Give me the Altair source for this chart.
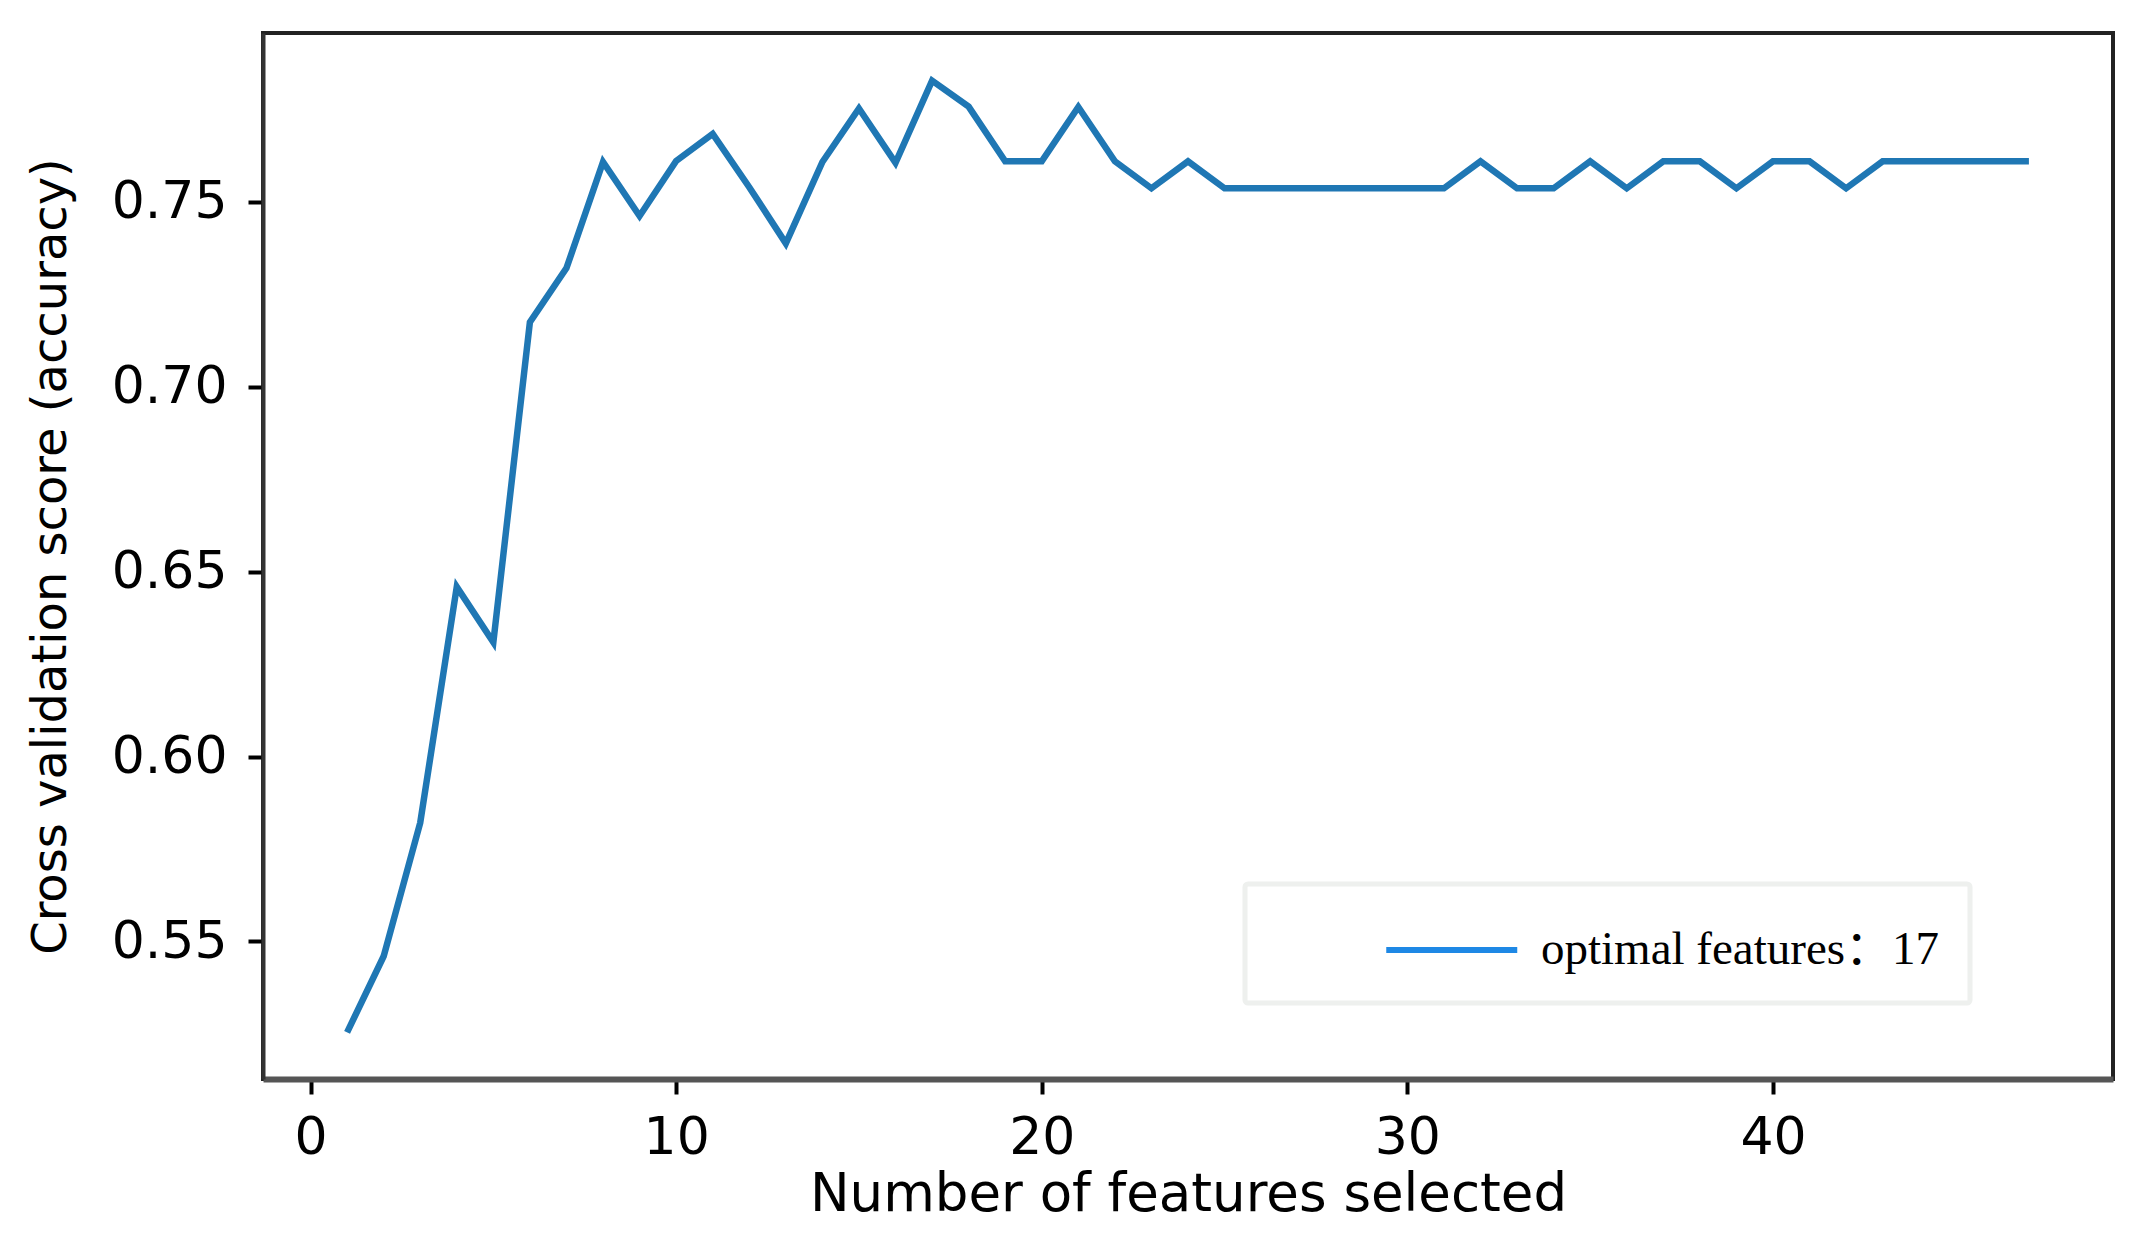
import altair as alt
import pandas as pd

# number of features selected
n_features = list(range(1, 48))
# cross validation score (accuracy)
scores = [
    0.5254, 0.5460, 0.5821, 0.6459, 0.6309, 0.7175, 0.7321, 0.7608, 0.7462, 0.7611,
    0.7684, 0.7540, 0.7388, 0.7608, 0.7753, 0.7606, 0.7828, 0.7758, 0.7610, 0.7610,
    0.7757, 0.7610, 0.7537, 0.7610, 0.7537, 0.7537, 0.7537, 0.7537, 0.7537, 0.7537,
    0.7537, 0.7610, 0.7537, 0.7537, 0.7610, 0.7537, 0.7610, 0.7610, 0.7537, 0.7610,
    0.7610, 0.7537, 0.7610, 0.7610, 0.7610, 0.7610, 0.7610,
]
series_label = "optimal features\uff1a17"
x_ticks = [0, 10, 20, 30, 40]
y_ticks = [0.55, 0.60, 0.65, 0.70, 0.75]

df = pd.DataFrame({"x": n_features, "score": scores, "series": series_label})

x_enc = alt.X(
    "x:Q",
    scale=alt.Scale(domain=[-1.3, 49.3], nice=False, zero=False),
    axis=alt.Axis(
        values=x_ticks, format="d", title="Number of features selected",
        labelPadding=18, titlePadding=5, titleFontSize=53,
        domainColor="#555555", domainWidth=6,
    ),
)
y_enc = alt.Y(
    "score:Q",
    scale=alt.Scale(domain=[0.5128, 0.7957], nice=False, zero=False),
    axis=alt.Axis(
        values=y_ticks, format=".2f", title="Cross validation score (accuracy)",
        labelPadding=21, titlePadding=36, titleFontSize=48,
        domainColor="#333333", domainWidth=4,
    ),
)

line = alt.Chart(df).mark_line(strokeWidth=6.5, color="#1f77b4").encode(
    x=x_enc, y=y_enc
)

legend_layer = alt.Chart(df).mark_line(strokeWidth=6).encode(
    x=x_enc,
    y=y_enc,
    detail="x:Q",
    color=alt.Color(
        "series:N",
        scale=alt.Scale(range=["#1e88e5"]),
        legend=alt.Legend(
            title=None, orient="none", legendX=982, legendY=851,
            symbolType="M-1,0H3", symbolSize=4290, symbolStrokeWidth=6,
            symbolOffset=108, labelOffset=86, labelLimit=900,
            labelFont="Liberation Serif, Noto Sans CJK SC", labelFontSize=47,
            labelColor="black", fillColor="white",
        ),
    ),
)

chart = alt.layer(line, legend_layer).properties(
    width=1850,
    height=1046,
    padding={"left": 255, "top": 25, "right": 17, "bottom": 146},
    autosize=alt.AutoSizeParams(type="none"),
    background="white",
).configure_view(
    stroke="#222222", strokeWidth=4
).configure_axis(
    grid=False,
    labelFont="DejaVu Sans", labelFontSize=52, labelColor="black",
    titleFont="DejaVu Sans", titleColor="black", titleFontWeight="normal",
    tickColor="black", tickWidth=4, tickSize=15,
).configure_legend(
    padding=30, strokeColor="#eef0ee", strokeWidth=5, cornerRadius=3,
)

chart.save("out.html", embed_options={"renderer": "svg", "actions": False})
